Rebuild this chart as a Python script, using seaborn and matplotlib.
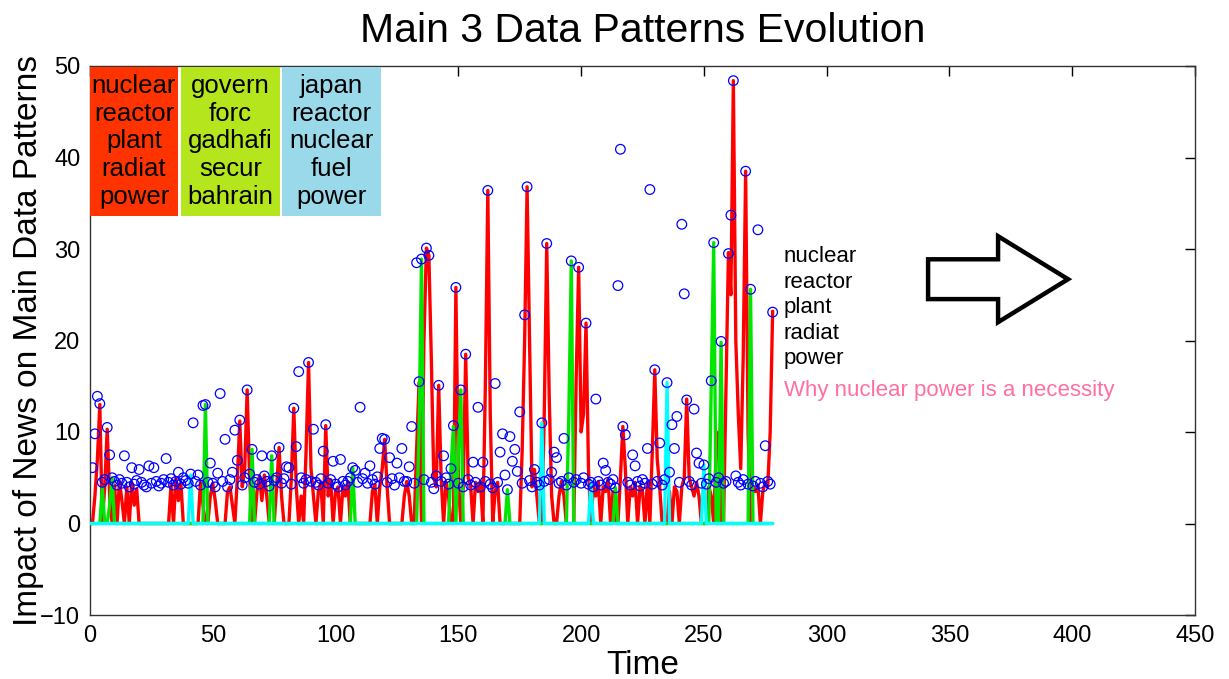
import numpy as np
import pandas as pd
import matplotlib
matplotlib.use("Agg")
import matplotlib.pyplot as plt
import matplotlib.patches as mpatches
import seaborn as sns

# ---------------- data ----------------
time_max = 278

red_t = [2, 3, 4, 6, 7, 8, 10, 12, 13, 15, 17, 18, 19, 33, 35, 36, 37, 45, 46, 49, 50, 51,
         56, 57, 58, 60, 61, 62, 63, 64, 65, 68, 69, 70, 71, 72, 76, 77, 78, 82, 83, 84, 86,
         88, 89, 90, 91, 93, 94, 96, 97, 98, 100, 101, 103, 104, 105, 115, 116, 118, 119,
         120, 121, 128, 129, 130, 133, 134, 136, 137, 138, 139, 140, 141, 142, 143, 145,
         146, 149, 150, 152, 153, 154, 155, 157, 158, 159, 161, 162, 163, 165, 166, 176,
         177, 178, 179, 180, 181, 182, 185, 186, 187, 188, 191, 192, 193, 198, 199, 200,
         201, 202, 203, 205, 206, 207, 209, 210, 211, 213, 216, 217, 218, 220, 221, 222,
         224, 225, 227, 229, 230, 231, 232, 236, 238, 239, 241, 242, 243, 244, 245, 246,
         247, 248, 252, 253, 255, 256, 259, 260, 261, 262, 263, 264, 265, 266, 267, 268,
         270, 271, 272, 274, 275, 276, 277, 278]
red_v = [3, 7, 13, 4, 10.3, 3, 4.2, 4.6, 2.5, 4, 4.5, 2, 3.8, 4.2, 5, 2.5, 4.5, 4.5, 2, 3,
         4.4, 2.5, 3.5, 4, 2, 5, 11.2, 4, 6, 14.6, 5, 3.5, 5.2, 2.5, 5.3, 3, 4, 8.3, 3, 5,
         12.6, 4, 3, 8, 17.6, 6, 3, 3.5, 4.5, 10.7, 3, 4.8, 3.5, 4, 4, 3, 4.6, 3.5, 4.3, 4,
         6, 9.2, 4, 3, 4.6, 3, 8, 15.4, 20, 30.1, 29.3, 18, 5, 4, 15.1, 5, 4.5, 3, 25.8, 5,
         4, 18.5, 5, 4.2, 4.5, 3.5, 4.6, 15, 36.4, 12, 3.5, 4.5, 8, 20, 36.8, 20, 4, 5.9,
         3, 12, 30.6, 14, 3, 3, 4.6, 3, 16, 28, 10, 12, 21.9, 6, 4, 3, 4.6, 4, 3.5, 4.8,
         3.5, 5, 10.6, 6, 4, 3, 4.5, 4, 3.5, 4.5, 8, 16.8, 7, 4, 3.5, 4, 3.5, 4, 5, 13.6,
         5, 4, 3, 4.5, 3, 4, 3, 8, 10, 15, 29.6, 25, 48.4, 20, 12, 6, 18, 38.5, 10, 4, 3.5,
         4.2, 3.5, 4.5, 4, 10, 23.2]

green_t = [5, 8, 9, 47, 66, 74, 107, 134, 135, 147, 148, 150, 151, 170, 195, 196, 214,
           253, 254, 257, 269]
green_v = [3.9, 2, 5, 13, 8.1, 7.4, 6.1, 10, 28.9, 6, 10.6, 8, 14.6, 3.7, 12, 28.7, 3.9,
           15, 30.7, 19.8, 25.6]

cyan_t = [41, 184, 204, 235, 250]
cyan_v = [5.3, 11, 4.5, 15.4, 6.4]

circle_v = [
    6.1, 9.8, 13.9, 13.1, 4.5, 4.8, 10.5, 7.5, 5.0, 4.6,        # 1-10
    4.2, 4.8, 4.4, 7.4, 4.5, 4.0, 6.1, 4.3, 4.7, 5.9,           # 11-20
    4.5, 4.2, 4.0, 6.3, 4.4, 6.1, 4.6, 4.1, 4.4, 4.8,           # 21-30
    7.1, 4.5, 4.9, 4.2, 4.6, 5.6, 4.3, 5.0, 4.7, 4.4,           # 31-40
    5.4, 11.0, 4.6, 5.3, 4.2, 12.9, 13.0, 4.5, 6.6, 4.4,        # 41-50
    4.0, 5.5, 14.2, 4.6, 9.2, 4.0, 4.8, 5.6, 10.2, 6.9,         # 51-60
    11.3, 4.2, 5.0, 14.6, 5.4, 8.1, 4.5, 4.8, 4.3, 7.4,         # 61-70
    5.2, 4.6, 4.1, 7.4, 4.7, 5.0, 8.3, 4.4, 4.9, 6.2,           # 71-80
    6.1, 4.3, 12.6, 8.4, 16.6, 5.0, 4.4, 4.8, 17.6, 4.6,        # 81-90
    10.3, 4.5, 4.2, 4.9, 7.9, 10.8, 4.4, 4.8, 6.8, 4.3,         # 91-100
    4.0, 7.0, 4.6, 4.2, 4.6, 5.0, 6.1, 5.8, 4.5, 12.7,          # 101-110
    4.9, 5.5, 4.4, 6.3, 4.8, 4.3, 5.1, 8.2, 9.3, 9.2,           # 111-120
    4.5, 7.2, 4.9, 4.2, 6.6, 5.0, 8.2, 4.6, 4.6, 6.2,           # 121-130
    10.6, 4.4, 28.5, 15.5, 28.9, 4.8, 30.1, 29.3, 4.5, 3.8,     # 131-140
    5.2, 15.1, 4.6, 7.4, 5.0, 4.3, 6.0, 10.7, 25.8, 4.4,        # 141-150
    14.6, 4.0, 18.5, 4.8, 4.2, 6.7, 4.5, 12.7, 4.0, 6.7,        # 151-160
    4.6, 36.4, 4.3, 3.9, 15.3, 4.5, 7.8, 9.8, 5.3, 3.7,         # 161-170
    9.5, 6.8, 8.1, 5.7, 12.2, 4.4, 22.8, 36.8, 4.7, 4.0,        # 171-180
    5.9, 4.5, 4.2, 11.0, 4.6, 30.6, 4.8, 5.6, 7.8, 7.2,         # 181-190
    4.4, 4.6, 9.3, 4.2, 5.0, 28.7, 4.5, 4.8, 28.0, 4.4,         # 191-200
    5.0, 21.9, 4.3, 4.5, 4.0, 13.6, 4.6, 4.2, 6.6, 5.8,         # 201-210
    4.5, 4.3, 4.8, 3.9, 26.0, 40.9, 10.6, 9.7, 4.5, 4.2,        # 211-220
    7.5, 6.3, 4.6, 4.1, 4.8, 4.4, 8.2, 36.5, 4.3, 16.8,         # 221-230
    4.6, 8.8, 4.2, 4.8, 15.4, 5.6, 10.8, 8.2, 11.7, 4.5,        # 231-240
    32.7, 25.1, 13.5, 4.6, 4.2, 12.5, 7.7, 6.6, 4.4, 6.4,       # 241-250
    4.3, 4.9, 15.6, 30.7, 4.5, 5.0, 19.9, 4.4, 4.6, 29.5,       # 251-260
    33.7, 48.4, 5.2, 4.5, 4.2, 4.8, 38.5, 4.3, 25.6, 4.1,       # 261-270
    4.6, 32.1, 4.4, 4.0, 8.5, 4.6, 4.3, 23.1,                   # 271-278
]
circle_t = list(range(1, len(circle_v) + 1))

box_words = [
    ["nuclear", "reactor", "plant", "radiat", "power"],
    ["govern", "forc", "gadhafi", "secur", "bahrain"],
    ["japan", "reactor", "nuclear", "fuel", "power"],
]
side_words = ["nuclear", "reactor", "plant", "radiat", "power"]
side_title = "Why nuclear power is a necessity"

# ---------------- build frames ----------------
t_all = np.arange(0, time_max + 1)


def series_frame(ts, vs):
    arr = np.zeros(len(t_all))
    arr[np.array(ts)] = vs
    return pd.DataFrame({"t": t_all, "v": arr})


df_red = series_frame(red_t, red_v)
df_green = series_frame(green_t, green_v)
df_cyan = series_frame(cyan_t, cyan_v)
df_circ = pd.DataFrame({"t": circle_t, "v": circle_v})

# ---------------- style ----------------
sns.set_theme(style="white")
plt.rcParams["font.family"] = ["Liberation Sans", "DejaVu Sans"]
plt.rcParams["text.color"] = "black"
plt.rcParams["axes.labelcolor"] = "black"
plt.rcParams["xtick.color"] = "black"
plt.rcParams["ytick.color"] = "black"

fig = plt.figure(figsize=(12.29, 6.79), dpi=100)
ax = fig.add_axes([90 / 1229, 1 - 615 / 679, (1195 - 90) / 1229, (615 - 66) / 679])

sns.lineplot(data=df_red, x="t", y="v", color="#FF0000", linewidth=2.4,
             estimator=None, sort=False, ax=ax, zorder=2)
sns.lineplot(data=df_green, x="t", y="v", color="#00E600", linewidth=2.4,
             estimator=None, sort=False, ax=ax, zorder=3)
sns.lineplot(data=df_cyan, x="t", y="v", color="#00FFFF", linewidth=2.4,
             estimator=None, sort=False, ax=ax, zorder=4)
sns.scatterplot(data=df_circ, x="t", y="v", marker="o", s=48, ax=ax, zorder=5)
coll = ax.collections[-1]
coll.set_facecolor("none")
coll.set_edgecolor("#0000FF")
coll.set_linewidth(0.9)

ax.set_xlim(0, 450)
ax.set_ylim(-10, 50)
ax.set_xticks(np.arange(0, 451, 50))
ax.set_yticks(np.arange(-10, 51, 10))
ax.tick_params(direction="in", length=7, width=1, top=True, right=True,
               labelsize=17, pad=7, colors="black")
for s in ax.spines.values():
    s.set_visible(True)
    s.set_color("#333333")
    s.set_linewidth(1)

ax.set_title("Main 3 Data Patterns Evolution", fontsize=29.5, pad=17, color="black")
ax.set_xlabel("Time", fontsize=24, labelpad=2)
ax.set_ylabel("Impact of News on Main Data Patterns", fontsize=24, labelpad=-3)

# coloured word boxes
box_specs = [(0.0, 35.8, "#FF3300"), (37.1, 40.3, "#B5E61D"), (78.2, 40.3, "#99D9EA")]
for (x0, w, col), words in zip(box_specs, box_words):
    ax.add_patch(mpatches.Rectangle((x0, 33.6), w, 16.3, facecolor=col,
                                    edgecolor="none", zorder=6))
    ax.text(x0 + w / 2, 41.75, "\n".join(words), ha="center", va="center",
            fontsize=18.5, linespacing=1.2, color="black", zorder=7)

# side text
ax.text(282.3, 30.3, "\n".join(side_words), ha="left", va="top", fontsize=16,
        linespacing=1.28, color="black")
ax.text(282.6, 13.9, side_title, ha="left", va="baseline", fontsize=16,
        color="#FF6F9F")

# outline arrow
ax.add_patch(mpatches.FancyArrow(341.3, 26.7, 57.0, 0.0, width=4.35,
                                 head_width=9.4, head_length=28.5,
                                 length_includes_head=True, facecolor="white",
                                 edgecolor="black", linewidth=3.2, zorder=6))

fig.savefig("out.png", dpi=100)
